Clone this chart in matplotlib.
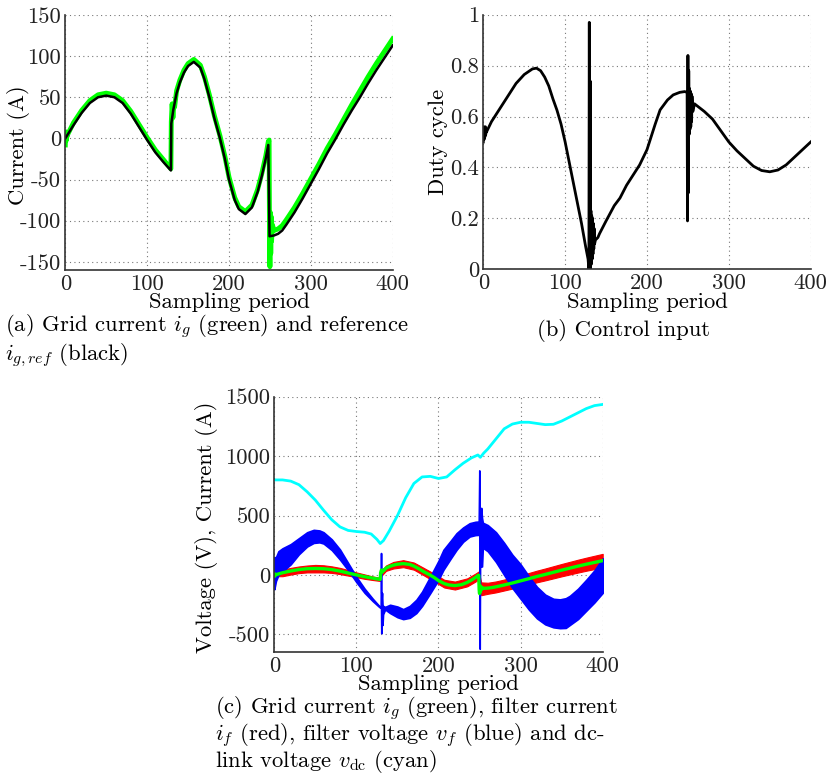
import matplotlib
matplotlib.use("Agg")
import matplotlib.pyplot as plt

plt.rcParams["font.family"] = "cmr10"
plt.rcParams["mathtext.fontset"] = "cm"
plt.rcParams["axes.unicode_minus"] = False
plt.rcParams["axes.formatter.use_mathtext"] = False

# (a) grid current reference (black)
ref_x = [0, 10, 20, 30, 40, 50, 60, 70, 80, 90, 100, 110, 120, 129,
         129.5, 132, 136, 140, 145, 150, 157, 165, 170, 176, 182, 189, 195, 200, 207, 212, 220, 228, 235, 240, 245, 248,
         249.5, 255, 260, 265, 270, 280, 290, 300, 310, 320, 330, 340, 350, 360, 370, 380, 390, 400]
ref_y = [0, 16, 31, 43, 50, 52, 50, 43, 30, 14, -2, -17, -29, -39,
         18, 35, 55, 68, 80, 88, 93, 86, 72, 50, 25, 0, -25, -50, -75, -86, -92, -84, -65, -46, -24, -8,
         -119, -118, -116, -112, -105, -90, -73, -55, -37, -18, -1, 17, 34, 50, 67, 83, 98, 113]

# grid current i_g (green)
ig_x = [0, 0.5, 1, 1.5, 2, 3, 10, 20, 30, 40, 50, 60, 70, 80, 90, 100, 110, 120, 129,
        129.5, 130.5, 131.5, 132.5, 133.5, 136, 140, 145, 150, 157, 165, 170, 176, 182, 189, 195, 200, 207, 212, 220,
        228, 235, 240, 245, 248, 249,
        249.5, 250, 250.5, 251, 251.5, 252, 253, 255, 260, 265, 270, 280, 290, 300, 310, 320, 330, 340, 350, 360,
        370, 380, 390, 400]
ig = [-8, 8, -3, 6, 2, 5, 19, 34, 46, 53, 55, 53, 46, 33, 17, 1, -14, -26, -37,
      20, 42, 25, 40, 38, 58, 71, 83, 91, 96, 89, 75, 53, 28, 3, -22, -47, -72, -83, -89,
      -81, -62, -43, -21, -4, -2,
      -120, -156, -90, -140, -95, -125, -105, -112, -110, -106, -99, -84, -67, -49, -31, -12, 5, 23, 41, 58,
      75, 91, 106, 121]

# (b) duty cycle
duty_x = [0, 0.5, 1, 1.5, 2, 2.5, 3, 3.5, 4, 10, 20, 30, 40, 50, 60, 65, 70, 75, 80, 85, 90, 95, 100, 105, 110,
          115, 120, 125, 128, 129,
          129.5, 130, 130.5, 131, 131.5, 132, 132.5, 133, 133.5, 134, 134.5, 135, 135.5, 136,
          137, 140, 142, 150, 160, 167, 175, 180, 191, 200, 204, 210, 216, 225, 232, 240, 246, 249,
          249.5, 250, 250.5, 251, 251.5, 252, 252.5, 253, 253.5, 254, 254.5, 255,
          256, 258, 260, 270, 280, 290, 300, 310, 320, 330, 340, 350, 360, 370, 380, 390, 400]
duty = [0.50, 0.56, 0.51, 0.55, 0.52, 0.56, 0.53, 0.55, 0.54, 0.58, 0.63, 0.68, 0.73, 0.765, 0.787, 0.79, 0.78,
        0.755, 0.72, 0.67, 0.625, 0.57, 0.50, 0.42, 0.34, 0.26, 0.18, 0.09, 0.04, 0.0,
        0.97, 0.0, 0.74, 0.0, 0.23, 0.02, 0.21, 0.04, 0.2, 0.06, 0.18, 0.08, 0.16, 0.10,
        0.115, 0.125, 0.14, 0.19, 0.25, 0.28, 0.33, 0.355, 0.41, 0.47, 0.51, 0.57, 0.626, 0.665, 0.685, 0.695,
        0.698, 0.695,
        0.19, 0.84, 0.30, 0.78, 0.53, 0.71, 0.55, 0.70, 0.56, 0.69, 0.58, 0.68,
        0.62, 0.65, 0.645, 0.62, 0.59, 0.545, 0.50, 0.465, 0.435, 0.405, 0.388, 0.383, 0.39, 0.41, 0.44, 0.47, 0.50]

# (c) filter current i_f band (red)
if_x = [0, 1, 3, 10, 20, 30, 40, 50, 60, 70, 80, 90, 100, 110, 120, 129,
        130, 136, 145, 157, 170, 182, 195, 207, 220, 235, 245, 249,
        252, 260, 270, 280, 290, 300, 310, 320, 330, 340, 350, 360, 370, 380, 390, 400]
if_hi = [40, 10, 45, 45, 60, 72, 80, 85, 82, 73, 60, 42, 22, 5, -12, -24,
         30, 80, 110, 125, 105, 60, 10, -40, -55, -28, 12, 30,
         -62, -65, -54, -38, -20, -2, 17, 37, 55, 74, 93, 111, 129, 146, 162, 178]
if_lo = [-40, -20, -10, -10, 4, 16, 22, 22, 22, 18, 8, -5, -18, -32, -42, -50,
         -10, 35, 55, 66, 45, -2, -55, -105, -122, -95, -55, -35,
         -170, -158, -146, -130, -114, -96, -79, -61, -45, -28, -11, 5, 21, 36, 50, 64]

# filter voltage v_f band (blue)
vf_x = [0, 2, 5, 10, 20, 30, 40, 48, 55, 60, 70, 80, 90, 100, 110, 120, 128,
        129.6, 130.0, 130.3, 130.7, 131.2, 131.8, 132.5, 135, 141, 150, 157, 165, 173, 180, 190, 200, 206, 215,
        222, 230, 238, 245, 249,
        249.7, 250.2, 250.7, 251.3, 252, 253, 254, 260, 270, 280, 290, 300, 310, 320, 330, 340, 348,
        355, 360, 370, 380, 390, 400]
vf_hi = [150, 150, 200, 225, 260, 310, 360, 380, 375, 360, 300, 215, 100, -15, -115, -200, -262,
         -265, 185, -150, -200, -150, -250, -260, -268, -250, -265, -287, -260, -208, -140, -12, 120, 212, 290,
         352, 400, 436, 448, 450,
         880, 450, 560, 470, 565, 480, 440, 420, 360, 270, 170, 90, -10, -100, -165, -200, -205,
         -195, -175, -115, -40, 40, 140]
vf_lo = [-120, -50, 0, 30, 90, 175, 240, 270, 275, 265, 210, 130, 40, -60, -150, -220, -270,
         -275, -275, -490, -300, -400, -420, -330, -290, -320, -355, -371, -360, -320, -260, -152, -40, 44, 140,
         212, 280, 324, 336, 338,
         338, -620, 200, 180, 72, 72, 230, 200, 110, 0, -110, -200, -290, -365, -415, -440, -447,
         -445, -420, -370, -300, -230, -150]

# dc-link voltage v_dc (cyan)
vdc_x = [0, 10, 20, 30, 40, 50, 60, 70, 80, 90, 100, 110, 118, 125, 129, 133, 140,
         150, 160, 170, 180, 190, 200, 210, 220, 230, 240, 248, 251, 255,
         260, 270, 280, 290, 300, 310, 320, 330, 340, 350, 360, 370, 380, 390, 400]
vdc = [800, 800, 790, 760, 700, 630, 545, 465, 405, 375, 366, 360, 345, 300, 265, 290, 370,
       500, 650, 770, 825, 830, 812, 825, 885, 940, 985, 1010, 990, 1025,
       1060, 1145, 1230, 1270, 1285, 1285, 1275, 1265, 1268, 1295, 1330, 1365, 1400, 1425, 1435]

W, H = 828, 775
FS = 16.3


def style(ax, ylim, yticks):
    ax.set_xlim(0, 400)
    ax.set_ylim(*ylim)
    ax.set_xticks([0, 100, 200, 300, 400])
    ax.set_yticks(yticks)
    ax.grid(True, linestyle=(0, (1, 3)), color="#777777", linewidth=0.8)
    ax.set_axisbelow(True)
    for s in ["top", "right"]:
        ax.spines[s].set_visible(False)
    for s in ["left", "bottom"]:
        ax.spines[s].set_color("#333333")
        ax.spines[s].set_linewidth(1.2)
    ax.tick_params(length=0, labelsize=FS, colors="#222222")
    ax.tick_params(axis="y", pad=3)
    ax.tick_params(axis="x", pad=3)


def box(l, t, r, b):
    return [l / W, 1 - b / H, (r - l) / W, (b - t) / H]


fig = plt.figure(figsize=(W / 100, H / 100), dpi=100)

# (a)
ax1 = fig.add_axes(box(65.3, 15, 392.7, 270))
ax1.plot(ig_x, ig, color="#00ff00", linewidth=3.5)
ax1.plot(ref_x, ref_y, color="black", linewidth=1.8)
style(ax1, (-160, 150), [-150, -100, -50, 0, 50, 100, 150])
ax1.text(-0.144, 0.49, "Current (A)", transform=ax1.transAxes, rotation=90,
         ha="center", va="center", fontsize=FS)
ax1.text(0.5, -0.128, "Sampling period", transform=ax1.transAxes,
         ha="center", va="center", fontsize=FS)

# (b)
ax2 = fig.add_axes(box(483.3, 14.7, 810.7, 269.3))
ax2.plot(duty_x, duty, color="black", linewidth=2)
style(ax2, (0, 1), [0, 0.2, 0.4, 0.6, 0.8, 1])
ax2.set_yticklabels(["0", "0.2", "0.4", "0.6", "0.8", "1"])
ax2.text(-0.137, 0.5, "Duty cycle", transform=ax2.transAxes, rotation=90,
         ha="center", va="center", fontsize=FS)
ax2.text(0.5, -0.128, "Sampling period", transform=ax2.transAxes,
         ha="center", va="center", fontsize=FS)

# (c)
ax3 = fig.add_axes(box(274.3, 396.7, 602.7, 652.3))
ax3.fill_between(if_x, if_lo, if_hi, color="#ff0000", linewidth=0.8, edgecolor="#ff0000")
ax3.plot(ig_x, ig, color="#00ff00", linewidth=2.4)
ax3.fill_between(vf_x, vf_lo, vf_hi, color="#0000ff", linewidth=1.2, edgecolor="#0000ff")
ax3.plot(vdc_x, vdc, color="#00ffff", linewidth=2)
style(ax3, (-650, 1500), [-500, 0, 500, 1000, 1500])
ax3.text(-0.206, 0.49, "Voltage (V), Current (A)", transform=ax3.transAxes, rotation=90,
         ha="center", va="center", fontsize=FS)
ax3.text(0.5, -0.125, "Sampling period", transform=ax3.transAxes,
         ha="center", va="center", fontsize=FS)

# captions
fig.text(5 / W, 1 - 341 / H,
         "(a) Grid current $i_g$ (green) and reference\n$i_{g,ref}$ (black)",
         ha="left", va="center", fontsize=FS, linespacing=1.02)
fig.text(624 / W, 1 - 330 / H, "(b) Control input", ha="center", va="center", fontsize=FS)
fig.text(215 / W, 1 - 735 / H,
         "(c) Grid current $i_g$ (green), filter current\n"
         "$i_f$ (red), filter voltage $v_f$ (blue) and dc-\n"
         r"link voltage $v_{\mathrm{dc}}$ (cyan)",
         ha="left", va="center", fontsize=FS, linespacing=0.92)

fig.savefig("out.png", dpi=100)
